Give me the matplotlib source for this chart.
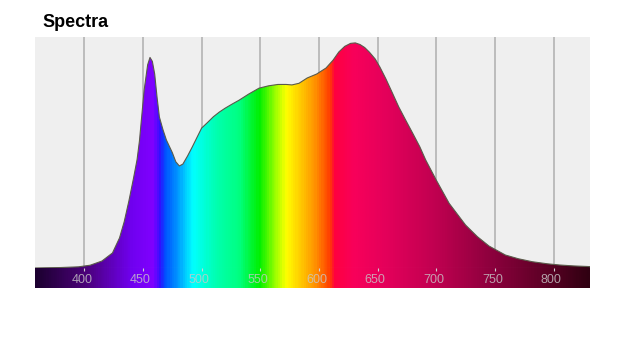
import numpy as np
import matplotlib
matplotlib.use('Agg')
import matplotlib.pyplot as plt
from matplotlib.colors import LinearSegmentedColormap
from matplotlib.patches import Polygon

plt.rcParams['font.family'] = ['Liberation Sans', 'DejaVu Sans']

# Spectrum (relative intensity)
wavelength = [358, 380, 395, 405, 415, 424, 430, 434, 438, 442, 445, 447, 451, 454,
              456, 458, 460, 462, 464, 467, 470, 475, 478, 481, 484, 488, 492, 496,
              500, 505, 510, 515, 520, 526, 532, 540, 549, 557, 565, 572, 577, 583,
              590, 598, 606, 612, 617, 622, 627, 631, 635, 639, 643, 648, 652, 657,
              662, 668, 674, 680, 686, 691, 700, 711, 725, 735, 745, 759, 770, 782,
              795, 805, 817, 831]
intensity = [0.0, 0.002, 0.005, 0.012, 0.03, 0.065, 0.13, 0.2, 0.29, 0.39, 0.47, 0.55,
             0.77, 0.88, 0.912, 0.895, 0.84, 0.74, 0.654, 0.6, 0.554, 0.5, 0.46, 0.442,
             0.45, 0.485, 0.524, 0.565, 0.606, 0.63, 0.655, 0.675, 0.692, 0.71, 0.727,
             0.753, 0.779, 0.789, 0.795, 0.795, 0.793, 0.8, 0.823, 0.84, 0.866, 0.9,
             0.936, 0.96, 0.973, 0.975, 0.968, 0.955, 0.935, 0.905, 0.87, 0.82, 0.765,
             0.698, 0.64, 0.583, 0.525, 0.468, 0.381, 0.28, 0.186, 0.136, 0.095, 0.056,
             0.04, 0.027, 0.018, 0.013, 0.009, 0.006]
tick_values = [400, 450, 500, 550, 600, 650, 700, 750, 800]

xmin, xmax = 358, 831

# wavelength -> colour stops for the rainbow
stops = [(358, '#1c0030'), (400, '#4a0078'), (440, '#7000f0'), (458, '#8000ff'),
         (464, '#3010ff'), (468, '#0050ff'), (478, '#0090ff'), (492, '#00ffff'),
         (512, '#00ffb0'), (532, '#00ff80'), (549, '#00f000'), (563, '#a0ff00'),
         (572, '#ffff00'), (583, '#ffd000'), (597, '#ff9000'), (609, '#ff4000'),
         (614, '#ff0040'), (630, '#f8005a'), (660, '#e2005a'), (700, '#c00050'),
         (750, '#8a003c'), (800, '#560022'), (831, '#300012')]
cmap = LinearSegmentedColormap.from_list(
    'spec', [((w - xmin) / (xmax - xmin), c) for w, c in stops])
grad = np.linspace(0, 1, 600).reshape(1, -1)

fig = plt.figure(figsize=(6.2, 3.4), dpi=100)
ax = fig.add_axes([0.0565, 0.2118, 0.895, 0.679])
cax = fig.add_axes([0.0565, 0.153, 0.895, 0.0588])

ax.set_facecolor('#efefef')
ax.set_xlim(xmin, xmax)
ax.set_ylim(0, 1)
for t in tick_values:
    ax.axvline(t, color='#b4b4b4', lw=1.2, zorder=1)

img = ax.imshow(grad, cmap=cmap, aspect='auto', extent=[xmin, xmax, 0, 1], zorder=2)
pts = list(zip(wavelength, intensity)) + [(wavelength[-1], 0), (wavelength[0], 0)]
poly = Polygon(pts, closed=True, facecolor='none', edgecolor='none')
ax.add_patch(poly)
img.set_clip_path(poly)
ax.plot(wavelength, intensity, color='#5a5a4a', lw=0.8, zorder=3)
ax.set_xticks([])
ax.set_yticks([])
for s in ax.spines.values():
    s.set_visible(False)

# colour bar with wavelength labels
cax.imshow(grad, cmap=cmap, aspect='auto', extent=[xmin, xmax, 0, 1])
cax.set_xlim(xmin, xmax)
cax.set_ylim(0, 1)
cax.set_yticks([])
cax.set_xticks(tick_values)
cax.xaxis.tick_top()
cax.tick_params(axis='x', direction='in', length=2, width=0.8, color='#d0d0d0',
                labeltop=False, labelbottom=False)
for t in tick_values:
    cax.text(t - 2, 0.42, str(t), color='#c8c8c8', fontsize=9, alpha=0.8,
             ha='center', va='center')
for s in cax.spines.values():
    s.set_visible(False)

fig.text(0.068, 0.935, 'Spectra', fontsize=13, fontweight='bold', ha='left', va='center')

fig.savefig('out.png', dpi=100)
